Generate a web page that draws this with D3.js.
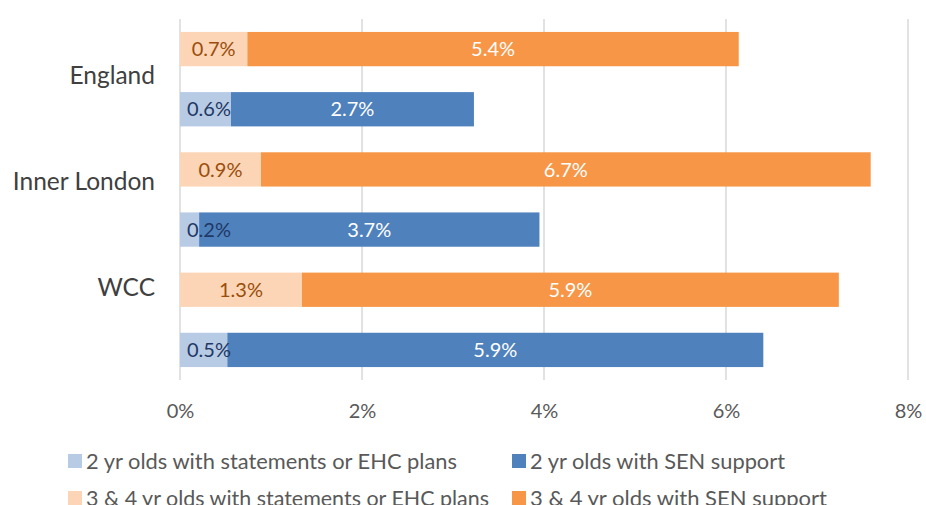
<!DOCTYPE html>
<html><head><meta charset="utf-8">
<script src="https://cdn.jsdelivr.net/npm/d3@7"></script>
<style>
html,body{margin:0;padding:0;background:#fff;overflow:hidden}
svg{display:block;font-family:Lato,"Noto Sans",sans-serif}
</style></head><body>
<svg id="c" width="926" height="505"></svg>
<script>
const categories = ["England", "Inner London", "WCC"];
const rowsOrder = ["3&4", "2"];
// values in %
const twoPlans = [0.56, 0.21, 0.52];
const twoSEN = [2.67, 3.74, 5.89];
const threeFourPlans = [0.74, 0.89, 1.34];
const threeFourSEN = [5.40, 6.70, 5.90];
const twoPlansLabels = ["0.6%", "0.2%", "0.5%"];
const twoSENLabels = ["2.7%", "3.7%", "5.9%"];
const threeFourPlansLabels = ["0.7%", "0.9%", "1.3%"];
const threeFourSENLabels = ["5.4%", "6.7%", "5.9%"];
const xTicks = [0, 2, 4, 6, 8];
const legendNames = ["2 yr olds with statements or EHC plans", "2 yr olds with SEN support",
  "3 & 4 yr olds with statements or EHC plans", "3 & 4 yr olds with SEN support"];

const colors = {lb:"#B7CBE5", db:"#4F81BD", lo:"#FBD5B5", do:"#F79646"};
const svg = d3.select("#c");
const pLeft = 180, pRight = 908, pTop = 19, pBottom = 380;

const x = d3.scaleLinear().domain([0, 8]).range([pLeft, pRight]);
const rowKeys = [];
categories.forEach(c => rowsOrder.forEach(r => rowKeys.push(c + "|" + r)));
const y = d3.scaleBand().domain(rowKeys).range([pTop, pBottom]).paddingInner(0.43).paddingOuter(0.215);
const yLab = d3.scalePoint().domain(categories).range([75, 287]);

// gridlines
svg.append("g").selectAll("line").data(xTicks).join("line")
  .attr("x1", d => x(d)).attr("x2", d => x(d)).attr("y1", pTop).attr("y2", pBottom)
  .attr("stroke", "#D9D9D9").attr("stroke-width", 1.5);

// rows
const rows = [];
categories.forEach((c, i) => {
  rows.push({key: c + "|3&4", a: threeFourPlans[i], b: threeFourSEN[i], la: threeFourPlansLabels[i], lb: threeFourSENLabels[i],
    ca: colors.lo, cb: colors.do, ta: "#9A4D0C", tb: "#ffffff"});
  rows.push({key: c + "|2", a: twoPlans[i], b: twoSEN[i], la: twoPlansLabels[i], lb: twoSENLabels[i],
    ca: colors.lb, cb: colors.db, ta: "#1F3864", tb: "#ffffff"});
});

const g = svg.append("g");
rows.forEach(r => {
  const y0 = y(r.key), h = y.bandwidth();
  g.append("rect").attr("x", x(0)).attr("y", y0).attr("width", x(r.a) - x(0)).attr("height", h).attr("fill", r.ca);
  g.append("rect").attr("x", x(r.a)).attr("y", y0).attr("width", x(r.a + r.b) - x(r.a)).attr("height", h).attr("fill", r.cb);
  const t1 = g.append("text").attr("y", y0 + h / 2).attr("dy", "0.36em").attr("text-anchor", "middle")
    .attr("font-size", 20).attr("fill", r.ta).text(r.la);
  const w1 = t1.node().getComputedTextLength();
  let cx1 = (x(0) + x(r.a)) / 2;
  cx1 = Math.max(cx1, x(0) + w1 / 2 + 7);
  t1.attr("x", cx1);
  g.append("text").attr("x", (x(r.a) + x(r.a + r.b)) / 2).attr("y", y0 + h / 2).attr("dy", "0.36em")
    .attr("text-anchor", "middle").attr("font-size", 20).attr("fill", r.tb).text(r.lb);
});

// category labels
svg.append("g").selectAll("text").data(categories).join("text")
  .attr("x", 155).attr("y", d => yLab(d)).attr("dy", "0.36em").attr("text-anchor", "end")
  .attr("font-size", 24.5).attr("fill", "#404040").text(d => d);

// x axis labels
const xAxis = d3.axisBottom(x).tickValues(xTicks).tickFormat(d => d + "%").tickSize(0).tickPadding(0);
const ax = svg.append("g").attr("transform", `translate(0, 411)`).call(xAxis);
ax.select(".domain").remove();
ax.selectAll("text").attr("font-family", "Lato").attr("font-size", 20).attr("fill", "#595959").attr("dy", "0.36em");

// legend
const legColors = [colors.lb, colors.db, colors.lo, colors.do];
const legPos = [[68, 461], [512, 461], [68, 498], [512, 498]];
const legWidths = [371, 255, 403, 297];
const lg = svg.append("g");
legendNames.forEach((n, i) => {
  const [lx, ly] = legPos[i];
  lg.append("rect").attr("x", lx).attr("y", ly - 7).attr("width", 14).attr("height", 14).attr("fill", legColors[i]);
  lg.append("text").attr("x", lx + 18).attr("y", ly).attr("dy", "0.36em").attr("font-size", 22)
    .attr("textLength", legWidths[i]).attr("lengthAdjust", "spacingAndGlyphs")
    .attr("fill", "#595959").text(n);
});
</script>
</body></html>
